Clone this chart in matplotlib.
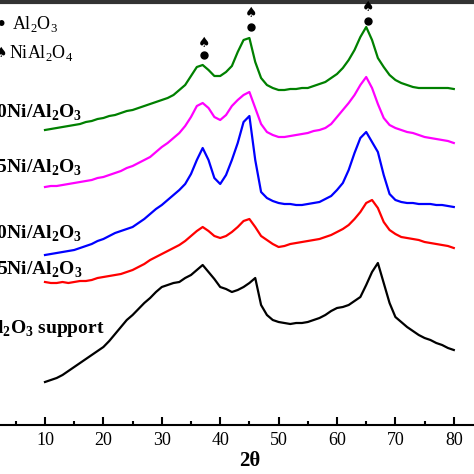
import numpy as np
import matplotlib
matplotlib.use('agg')
from matplotlib import pyplot as plt

plt.rcParams['font.family'] = ['Liberation Serif', 'DejaVu Sans']
plt.rcParams['mathtext.fontset'] = 'custom'
plt.rcParams['mathtext.rm'] = 'Liberation Serif'
plt.rcParams['mathtext.bf'] = 'Liberation Serif:bold'

# 2theta grid, one reading per degree
two_theta = np.arange(10, 81)

# intensities (a.u., offset stacked)
support = [43, 45, 47, 50, 54, 58, 62, 66, 70, 74,
           78, 84, 91, 98, 105, 110, 116, 122, 127, 133,
           138, 140, 142, 143, 147, 150, 155, 160, 153, 146,
           138, 136, 133, 135, 138, 142, 147, 120, 110, 105,
           103, 102, 101, 102, 102, 103, 105, 107, 110, 114,
           117, 118, 120, 124, 128, 140, 153, 162, 142, 122,
           108, 103, 98, 94, 90, 87, 85, 82, 80, 77, 75]
ni_5 = [143, 142, 142, 143, 142, 143, 144, 144, 145, 147,
        148, 149, 150, 151, 153, 155, 158, 161, 165, 168,
        171, 174, 177, 180, 184, 189, 194, 198, 194, 189,
        187, 189, 193, 198, 204, 206, 198, 189, 185, 181,
        178, 179, 181, 182, 183, 184, 185, 186, 188, 190,
        193, 196, 200, 206, 213, 222, 225, 217, 203, 195,
        191, 188, 187, 186, 185, 183, 182, 181, 180, 179, 177]
ni_10 = [170, 171, 172, 173, 174, 175, 177, 179, 181, 184,
         186, 189, 192, 194, 196, 198, 202, 206, 211, 216,
         220, 225, 230, 235, 241, 251, 265, 277, 265, 247,
         241, 250, 265, 282, 303, 309, 265, 233, 227, 224,
         222, 221, 221, 220, 220, 221, 222, 223, 226, 229,
         235, 242, 255, 272, 287, 293, 283, 273, 250, 231,
         225, 223, 222, 222, 221, 221, 221, 220, 220, 219, 218]
ni_15 = [238, 239, 239, 240, 241, 242, 243, 244, 245, 247,
         248, 250, 252, 254, 257, 259, 262, 265, 268, 273,
         278, 282, 287, 292, 299, 308, 319, 322, 317, 308,
         305, 310, 319, 325, 330, 333, 317, 301, 293, 290,
         288, 288, 289, 290, 291, 292, 294, 295, 297, 301,
         308, 315, 322, 330, 340, 348, 337, 321, 307, 300,
         297, 295, 293, 292, 290, 288, 287, 286, 285, 284, 282]
ni_20 = [295, 296, 297, 298, 299, 300, 301, 303, 304, 306,
         307, 309, 310, 312, 314, 315, 317, 319, 321, 323,
         325, 327, 330, 335, 340, 349, 358, 360, 355, 349,
         349, 353, 359, 373, 385, 387, 363, 347, 340, 337,
         335, 335, 336, 336, 337, 337, 339, 341, 343, 347,
         351, 357, 365, 375, 388, 398, 385, 367, 358, 350,
         345, 342, 340, 338, 337, 337, 337, 337, 337, 337, 336]

series = [support, ni_5, ni_10, ni_15, ni_20]
colors = ['black', 'red', 'blue', 'magenta', 'green']
labels = ['Al$_\\mathbf{2}$O$_\\mathbf{3}$ support',
          '5Ni/Al$_\\mathbf{2}$O$_\\mathbf{3}$',
          '10Ni/Al$_\\mathbf{2}$O$_\\mathbf{3}$',
          '15Ni/Al$_\\mathbf{2}$O$_\\mathbf{3}$',
          '20Ni/Al$_\\mathbf{2}$O$_\\mathbf{3}$']
# label baselines, pixels from the top
label_base = [333, 275, 239, 173, 118]

# phase markers above peaks
peak_pos = [37.3, 45.2, 65.3]
dot_y = [370, 398, 404]
spade_y = [382, 412, 418]

W = 474
fig = plt.figure(figsize=(4.74, 4.74), dpi=100)
ax = fig.add_axes([-13.4 / W, 49 / W, 496.4 / W, 423 / W])

for y, c in zip(series, colors):
    ax.plot(two_theta, y, color=c, lw=1.6)

ax.plot(peak_pos, dot_y, 'o', color='black', ms=5)
for x, y in zip(peak_pos, spade_y):
    ax.text(x, y, '\u2660', family='DejaVu Sans', fontsize=10,
            ha='center', va='center')

for lab, y in zip(labels, label_base):
    xr = 105 if 'support' in lab else 82
    fig.text(xr / W, 1 - y / W, lab, ha='right', va='baseline',
             fontsize=14, fontweight='bold')

ax.set_xlim(0, 85)
ax.set_ylim(0, 423)
ax.set_xticks(range(10, 90, 10))
ax.set_xticks(range(5, 85, 10), minor=True)
ax.set_yticks([])
ax.tick_params(axis='x', which='major', direction='in', length=6, width=1.5,
               labelsize=13, pad=5)
ax.tick_params(axis='x', which='minor', direction='in', length=3, width=1.5)
ax.spines['bottom'].set_linewidth(1.5)
ax.spines['top'].set_linewidth(3)
ax.spines['top'].set_color('#333333')

fig.text(250 / W, 1 - 461 / W, '2\u03b8', ha='center', va='center',
         fontsize=15, fontweight='bold')

# phase key, top left
fig.text(1 / W, 1 - 24 / W, '\u2022', family='DejaVu Sans', fontsize=14,
         ha='center', va='center')
fig.text(12 / W, 1 - 24 / W, 'Al$_2$O$_3$', fontsize=13, va='center')
fig.text(1 / W, 1 - 53 / W, '\u2660', family='DejaVu Sans', fontsize=10,
         ha='center', va='center')
fig.text(9 / W, 1 - 53 / W, 'NiAl$_2$O$_4$', fontsize=13, va='center')

fig.savefig('out.png', dpi=100)
